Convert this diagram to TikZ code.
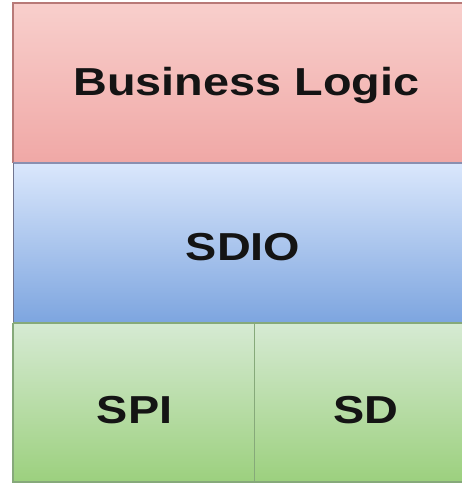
\documentclass[tikz,border=0pt]{standalone}
\usepackage{fontspec}
\setmainfont{Liberation Sans}
\definecolor{redtop}{HTML}{F8CFCC}
\definecolor{redbot}{HTML}{F0A8A6}
\definecolor{redline}{HTML}{B87A78}
\definecolor{bluetop}{HTML}{DAE7FC}
\definecolor{bluebot}{HTML}{7DA5DF}
\definecolor{blueline}{HTML}{8A8FB0}
\definecolor{greentop}{HTML}{D6EAD3}
\definecolor{greenbot}{HTML}{9CD07E}
\definecolor{greenline}{HTML}{86A97A}
\tikzset{
  lbl/.style={inner sep=0pt, text=black!92, font=\fontsize{39}{39}\selectfont\bfseries},
}
\newcommand{\wide}[1]{\scalebox{1.2}[1]{#1}}
\begin{document}
\begin{tikzpicture}[x=1pt,y=-1pt]
\useasboundingbox (0,0) rectangle (462,484);
\fill[white] (0,0) rectangle (462,484);
% red
\shade[top color=redtop, bottom color=redbot] (13,3) rectangle (470,163);
% blue
\shade[top color=bluetop, bottom color=bluebot] (13,163) rectangle (470,323);
% green
\shade[top color=greentop, bottom color=greenbot] (13,323) rectangle (470,482);
% borders
\draw[redline, line width=1.5pt] (470,3) -- (13,3) -- (13,163);
\draw[blueline, line width=2pt] (13,163) -- (470,163);
\draw[blueline!70!black!60!blueline, line width=1pt] (13,163) -- (13,323);
\draw[greenline, line width=2pt] (13,323) -- (470,323);
\draw[greenline, line width=1.5pt] (13,323) -- (13,482) -- (470,482);
\coordinate (splitTop) at (254,323);
\coordinate (splitBot) at (254,482);
\draw[greenline, line width=1pt] (splitTop) -- (splitBot);
% labels
\node[lbl] (bl) at (246.5,86) {\wide{Business Logic}};
\node[lbl] (sdio) at (243,247.5) {\wide{SDIO}};
\node[lbl] (spi) at (134.5,410) {\wide{SPI}};
\node[lbl] (sd) at (366,410) {\wide{SD}};
\end{tikzpicture}
\end{document}
